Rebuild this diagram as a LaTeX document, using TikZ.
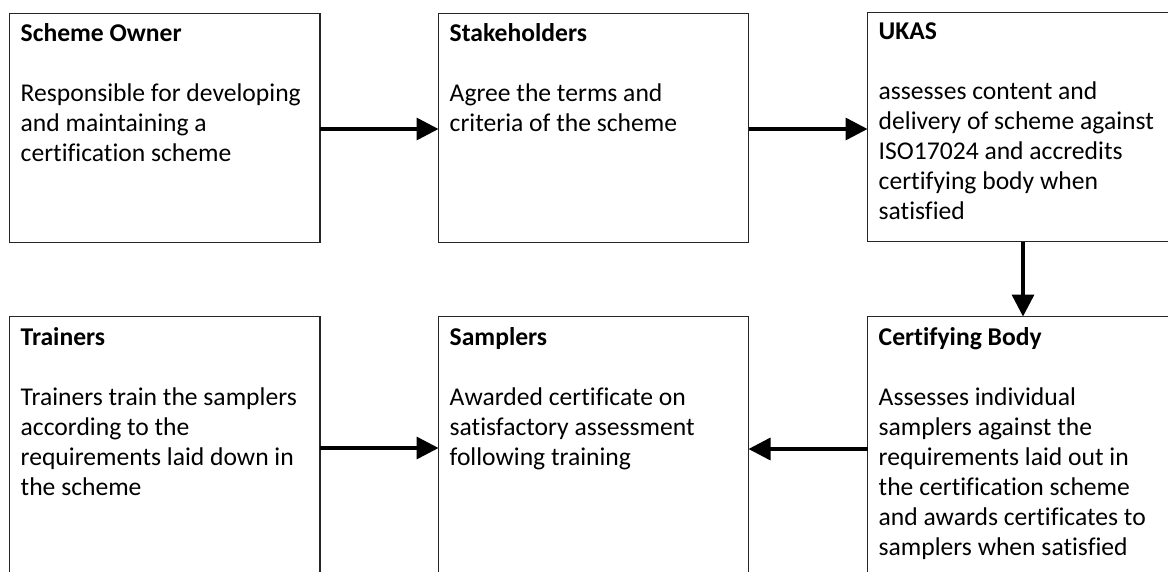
\documentclass[tikz,border=0pt]{standalone}
\usepackage{fontspec}
\setmainfont{Carlito}[Ligatures=NoCommon]
\usetikzlibrary{arrows.meta}
\tikzset{
  box/.style={draw=black!85, line width=1.4pt, fill=none},
  boxtext/.style={anchor=north west, inner sep=0pt, align=left, text=black,
    font=\fontsize{25.6}{30}\selectfont},
  flow/.style={line width=3.5pt, -{Triangle[length=22pt,width=22pt]}}
}
\newcommand{\firstline}{\rule{0pt}{22pt}}
\begin{document}
\begin{tikzpicture}[x=1pt,y=-1pt]
\clip (0,0) rectangle (1168,571);
\fill[white] (0,0) rectangle (1168,571);
% boxes
\draw[box] (9.5,13.5) rectangle (320,242.5);
\draw[box] (438.5,13.5) rectangle (748.5,242.5);
\draw[box] (867.5,12.5) rectangle (1180,241.5);
\draw[box] (9.5,316.5) rectangle (320,600);
\draw[box] (438.5,316.5) rectangle (748.5,600);
\draw[box] (867.5,316.5) rectangle (1180,600);
% named points for connectors
\coordinate (so-e) at (320,129);
\coordinate (st-w) at (438.5,129);
\coordinate (st-e) at (748.5,129);
\coordinate (uk-w) at (867.5,129);
\coordinate (uk-s) at (1023,241.5);
\coordinate (cb-n) at (1023,316.5);
\coordinate (tr-e) at (320,448);
\coordinate (sa-w) at (438.5,448);
\coordinate (sa-e) at (748.5,449);
\coordinate (cb-w) at (867.5,449);
% texts
\node[boxtext] (t1) at (20.5,19.5) {\firstline\textbf{Scheme Owner}\\[30pt]Responsible for developing\\and maintaining a\\certification scheme};
\node[boxtext] (t2) at (449.5,19.5) {\firstline\textbf{Stakeholders}\\[30pt]Agree the terms and\\criteria of the scheme};
\node[boxtext] (t3) at (878.5,17.5) {\firstline\textbf{UKAS}\\[30pt]assesses content and\\delivery of scheme against\\ISO17024 and accredits\\certifying body when\\satisfied};
\node[boxtext] (t4) at (20.5,323) {\firstline\textbf{Trainers}\\[30pt]Trainers train the samplers\\according to the\\requirements laid down in\\the scheme};
\node[boxtext] (t5) at (449.5,323) {\firstline\textbf{Samplers}\\[30pt]Awarded certificate on\\satisfactory assessment\\following training};
\node[boxtext] (t6) at (878.5,323) {\firstline\textbf{Certifying Body}\\[30pt]Assesses individual\\samplers against the\\requirements laid out in\\the certification scheme\\and awards certificates to\\samplers when satisfied};
% arrows
\draw[flow] (so-e) -- (st-w);
\draw[flow] (st-e) -- (uk-w);
\draw[flow] (uk-s) -- (cb-n);
\draw[flow] (tr-e) -- (sa-w);
\draw[flow] (cb-w) -- (sa-e);
\end{tikzpicture}
\end{document}
